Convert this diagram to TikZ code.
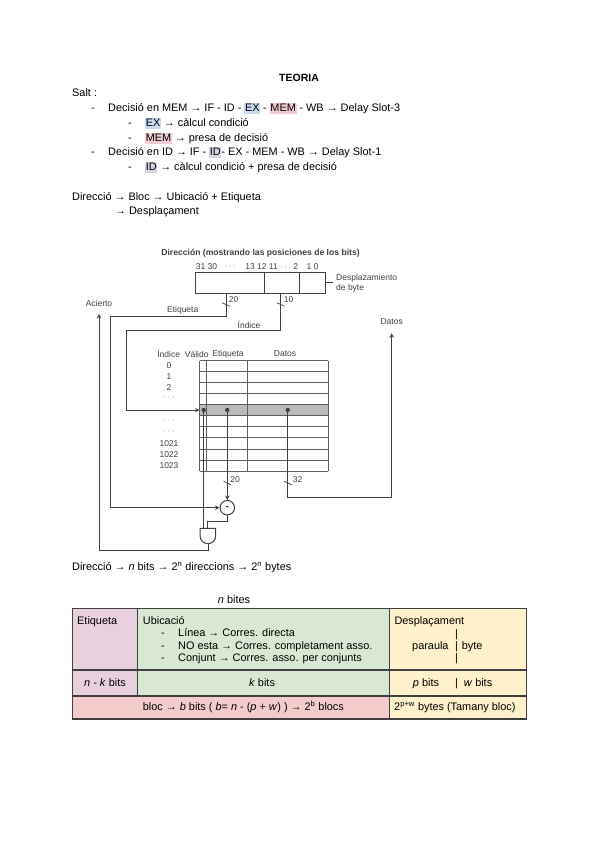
\documentclass[tikz,border=0pt]{standalone}
\usepackage{fontspec}
\setmainfont{Liberation Sans}
\usepackage{tikz}
\definecolor{hlex}{HTML}{C9DAF0}
\definecolor{hlmem}{HTML}{F0CCD4}
\definecolor{hlid}{HTML}{D5D5E8}
\definecolor{cellpink}{HTML}{E8D0DE}
\definecolor{cellgreen}{HTML}{D8E8D2}
\definecolor{cellyellow}{HTML}{FFF1CC}
\definecolor{cellred}{HTML}{F3CBCB}
\definecolor{wire}{HTML}{404040}
\newcommand{\hlbox}[2]{{\fboxsep=0.6pt\colorbox{#1}{\vphantom{Mg}#2}}}
\tikzset{
  txt/.style={anchor=base west,inner sep=0pt,font=\fontsize{10.9}{12}\selectfont},
  txtc/.style={txt,anchor=base},
  fig/.style={anchor=center,inner sep=0pt,text=wire,font=\fontsize{8.5}{10}\selectfont},
  figw/.style={fig,anchor=base west},
  wires/.style={draw=wire,line width=1pt},
  grid/.style={draw=wire!85,line width=0.8pt},
  cellline/.style={draw=black!75,line width=1.4pt},
  cut/.style={draw=wire,line width=0.7pt}
}
\begin{document}
\begin{tikzpicture}[>=stealth,x=1pt,y=-1pt]
\useasboundingbox (0,0) rectangle (599,848);
\fill[white] (0,0) rectangle (599,848);
% notes at the top
\node[txtc,font=\fontsize{10.5}{12}\bfseries\selectfont] (title) at (299,82) {TEORIA};
\node[txt] (salt) at (72,97) {Salt :};
\node[txt] (d1) at (91,111.5) {-};
\node[txt] (l1) at (108,111.5) {Decisió en MEM → IF - ID - \hlbox{hlex}{EX} - \hlbox{hlmem}{MEM} - WB → Delay Slot-3};
\node[txt] (d2) at (128,126) {-};
\node[txt] (l2) at (145,126) {\hlbox{hlex}{EX} → càlcul condició};
\node[txt] (d3) at (128,141) {-};
\node[txt] (l3) at (145,141) {\hlbox{hlmem}{MEM} → presa de decisió};
\node[txt] (d4) at (91,155) {-};
\node[txt] (l4) at (108,155) {Decisió en ID → IF - \hlbox{hlid}{ID}- EX - MEM - WB → Delay Slot-1};
\node[txt] (d5) at (128,170) {-};
\node[txt] (l5) at (145,170) {\hlbox{hlid}{ID} → càlcul condició + presa de decisió};
\node[txt] (dir) at (72,200) {Direcció → Bloc → Ubicació + Etiqueta};
\node[txt] (despl) at (115,214) {→ Desplaçament};
% address register
\node[fig,font=\fontsize{8.6}{10}\bfseries\selectfont] (addr) at (260.5,253) {Dirección (mostrando las posiciones de los bits)};
\foreach \name/\xx/\lab in {b31/206.5/31 30,bd1/230/$\cdot\cdot\cdot$,b13/256/13 12,b11/283.5/11 $\cdot\cdot\cdot$ 2,b1/312.5/1 0}
  \node[fig] (\name) at (\xx,266.5) {\lab};
\draw[wires] (195.7,272.7) rectangle (325,293.3);
\draw[wires] (264.3,272.7)--(264.3,293.3);
\draw[wires] (299.7,272.7)--(299.7,293.3);
\coordinate (bytestub) at (325,282.7);
\node[figw] (bytetxt) at (336,280.7) {Desplazamiento};
\node[figw] (bytetxt2) at (336,290.5) {de byte};
\draw[wires] (bytestub)--(333,282.7);
% cache table
\fill[black!27] (199.5,405) rectangle (328.3,415.7);
\foreach \yy in {360.7,371.5,382.7,393.7,404.7,415.7,426.7,437.7,449,460,471}
  \draw[grid] (199.5,\yy)--(328.3,\yy);
\foreach \xx in {199.5,206.7,247.3,328.3}
  \draw[grid] (\xx,360.7)--(\xx,471);
\foreach \name/\xx/\lab in {hidx/168.7/Índice,hval/196.7/Válido,htag/228/Etiqueta,hdat/285/Datos}
  \node[fig] (\name) at (\xx,354) {\lab};
\foreach \name/\yy/\lab in {r0/366/0,r1/377/1,r2/388/2,r3/398/$\cdot\cdot\cdot$,r4/421/$\cdot\cdot\cdot$,r5/432/$\cdot\cdot\cdot$,r6/443.7/1021,r7/455/1022,r8/466/1023}
  \node[fig] (\name) at (169,\yy) {\lab};
% wires
\coordinate (tagout) at (226,293.3);
\coordinate (idxout) at (280.7,293.3);
\coordinate (tagturn) at (110.7,316);
\coordinate (idxturn) at (126,330.7);
\coordinate (idxin) at (199.5,410);
\fill[wire] (203.7,410) circle (2.2) coordinate (dotv);
\fill[wire] (227.3,410) circle (2.2) coordinate (dott);
\fill[wire] (287.7,410) circle (2.2) coordinate (dotd);
\node[circle,draw=wire,line width=1pt,minimum size=14.5pt,inner sep=0pt,font=\fontsize{9}{9}\bfseries\selectfont] (cmp) at (227.3,507.7) {-};
\coordinate (gatel) at (200,528.3);
\coordinate (gater) at (215.7,528.3);
\draw[wires] (gatel)--(gater)--(215.7,535.5) .. controls (215.7,541) and (212,543.6) .. (208,543.6)
  .. controls (204,543.6) and (200,541) .. (200,535.5)--cycle;
\coordinate (gateout) at (208,543.6);
\coordinate (hitturn) at (99,550.3);
\coordinate (hitend) at (99,314);
\coordinate (datturn) at (391.7,497.3);
\coordinate (datend) at (391.7,333.3);
\draw[wires] (tagout)|-(tagturn);
\draw[wires,->] (tagturn)|-(cmp.west);
\draw[wires,->] (idxout)|-(idxturn)|-(idxin);
\draw[wires] (dotv)--(dotv|-gatel);
\draw[wires,->] (dott)--(cmp.north);
\draw[wires] (cmp.south)--(227.3,521.7)-|(207.3,528.3);
\draw[wires,->] (gateout)|-(hitturn)--(hitend);
\draw[wires,->] (dotd)|-(datturn)--(datend);
% bus cuts
\foreach \name/\xx/\yy in {c1/226/304.5,c2/280.7/304.5,c3/227.3/483,c4/288/483}
  \draw[cut] (\xx-3.7,\yy-1.7)--(\xx+3.7,\yy+1.7);
\foreach \name/\xx/\yy/\lab in {w20/233.5/299.5/20,w10/288.5/299.5/10,w20b/235/479.7/20,w32/297.5/479.7/32}
  \node[fig] (\name) at (\xx,\yy) {\lab};
\node[fig] (acierto) at (99,303) {Acierto};
\node[fig] (datos) at (391.7,321.7) {Datos};
\node[fig] (etiq) at (182.7,310) {Etiqueta};
\node[fig] (indice) at (249,325) {Índice};
% address bits
\node[txt] (dir2) at (72,570) {Direcció → \textit{n} bits → 2\textsuperscript{n} direccions → 2\textsuperscript{n} bytes};
\node[txtc] (nbits) at (234,603) {\textit{n} bites};
% table
\fill[cellpink] (72.3,608.3) rectangle (137.7,696);
\fill[cellgreen] (137.7,608.3) rectangle (389.7,696);
\fill[cellyellow] (389.7,608.3) rectangle (526.7,719);
\fill[cellred] (72.3,696) rectangle (389.7,719);
\draw[cellline] (72.3,608.3) rectangle (526.7,719);
\draw[cellline] (72.3,670)--(526.7,670);
\draw[cellline] (72.3,696)--(526.7,696);
\draw[cellline] (137.7,608.3)--(137.7,696);
\draw[cellline] (389.7,608.3)--(389.7,719);
\node[txt] (t1) at (77,624.3) {Etiqueta};
\node[txt] (t2) at (142.7,624.3) {Ubicació};
\node[txt] (t3) at (394.3,624.3) {Desplaçament};
\foreach \name/\yy/\lab in {u1/636.7/Línea  → Corres. directa,u2/649/NO esta → Corres. completament asso.,u3/661.7/Conjunt → Corres. asso. per conjunts}{
  \node[txt] (\name d) at (161,\yy) {-};
  \node[txt] (\name) at (178,\yy) {\lab};
}
\node[txt] (par) at (412,649) {paraula};
\node[txt] (byt) at (461.7,649) {byte};
\foreach \name/\yy in {s1/637,s2/649,s3/661}
  \node[txt] (\name) at (455,\yy) {|};
\node[txtc] (nk) at (105,686) {\textit{n - k} bits};
\node[txtc] (kb) at (262,686) {\textit{k} bits};
\node[txtc] (pb) at (426,686) {\textit{p} bits};
\node[txt] (s4) at (455,686) {|};
\node[txtc] (wb) at (478,686) {\textit{w} bits};
\node[txt] (blc) at (142.7,710.7) {bloc → \textit{b} bits ( \textit{b}= \textit{n} - (\textit{p} + \textit{w}) ) → 2\textsuperscript{b} blocs};
\node[txt] (tam) at (394,710.7) {2\textsuperscript{p+w} bytes (Tamany bloc)};
\end{tikzpicture}
\end{document}
